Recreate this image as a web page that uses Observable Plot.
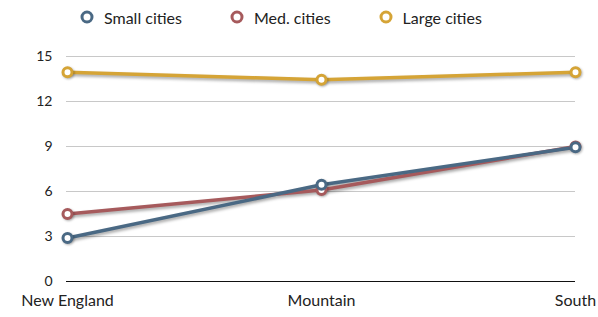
<!DOCTYPE html>
<html>
<head>
<meta charset="utf-8">
<script src="https://cdn.jsdelivr.net/npm/d3@7"></script>
<script src="https://cdn.jsdelivr.net/npm/@observablehq/plot@0.6"></script>
<style>
  html, body { margin: 0; padding: 0; background: #fff; }
  body { width: 598px; height: 317px; overflow: hidden; font-family: "Lato", "Open Sans", sans-serif; }
  #legend { height: 40px; display: flex; justify-content: flex-start; align-items: center; gap: 47px; font-size: 16px; color: #222; padding-left: 79px; box-sizing: border-box; padding-bottom: 6px; }
  .item { display: flex; align-items: center; }
  .item svg { margin-right: 9px; }
  #chart svg g[aria-label="line"] { filter: drop-shadow(1px 2px 1.5px rgba(0,0,0,0.35)); }
  #chart svg g[aria-label="dot"] { filter: drop-shadow(1px 1.5px 1px rgba(0,0,0,0.3)); }
</style>
</head>
<body>
<div id="legend"></div>
<div id="chart"></div>
<script>
const regions = ["New England", "Mountain", "South"];
const seriesNames = ["Small cities", "Med. cities", "Large cities"];
const smallCities = [2.9, 6.45, 8.95];
const medCities = [4.5, 6.1, 9.0];
const largeCities = [13.95, 13.45, 13.95];
const colors = ["#4a6984", "#a65a5c", "#d5a436"];
const yTicks = [0, 3, 6, 9, 12, 15];

const values = [smallCities, medCities, largeCities];
const data = [];
// draw order: large first, small last (on top)
[2, 1, 0].forEach(i => regions.forEach((r, j) => data.push({series: seriesNames[i], region: r, value: values[i][j]})));

const legend = document.getElementById("legend");
seriesNames.forEach((s, i) => {
  const item = document.createElement("div");
  item.className = "item";
  item.innerHTML = `<svg width="16" height="16"><circle cx="8" cy="8" r="5" fill="#fff" stroke="${colors[i]}" stroke-width="3"/></svg><span>${s}</span>`;
  legend.appendChild(item);
});

const plot = Plot.plot({
  width: 598,
  height: 277,
  marginTop: 16,
  marginBottom: 36,
  marginLeft: 66,
  marginRight: 23,
  style: {fontFamily: "Lato, 'Open Sans', sans-serif", color: "#222", background: "#fff"},
  x: {type: "point", domain: regions, padding: 0},
  y: {domain: [0, 15]},
  color: {domain: seriesNames, range: colors},
  marks: [
    Plot.ruleY(yTicks.filter(d => d > 0), {stroke: "#c8c8c8", strokeWidth: 1}),
    Plot.ruleY([0], {stroke: "#111", strokeWidth: 1}),
    Plot.axisY({ticks: yTicks, tickSize: 0, tickPadding: 14, fontSize: 14, label: null}),
    Plot.axisX({tickSize: 0, tickPadding: 13, fontSize: 16, label: null}),
    Plot.line(data, {x: "region", y: "value", z: "series", stroke: "series", strokeWidth: 3.5}),
    Plot.dot(data, {x: "region", y: "value", stroke: "series", fill: "#fff", r: 4.5, strokeWidth: 3})
  ]
});
document.getElementById("chart").appendChild(plot);
</script>
</body>
</html>
